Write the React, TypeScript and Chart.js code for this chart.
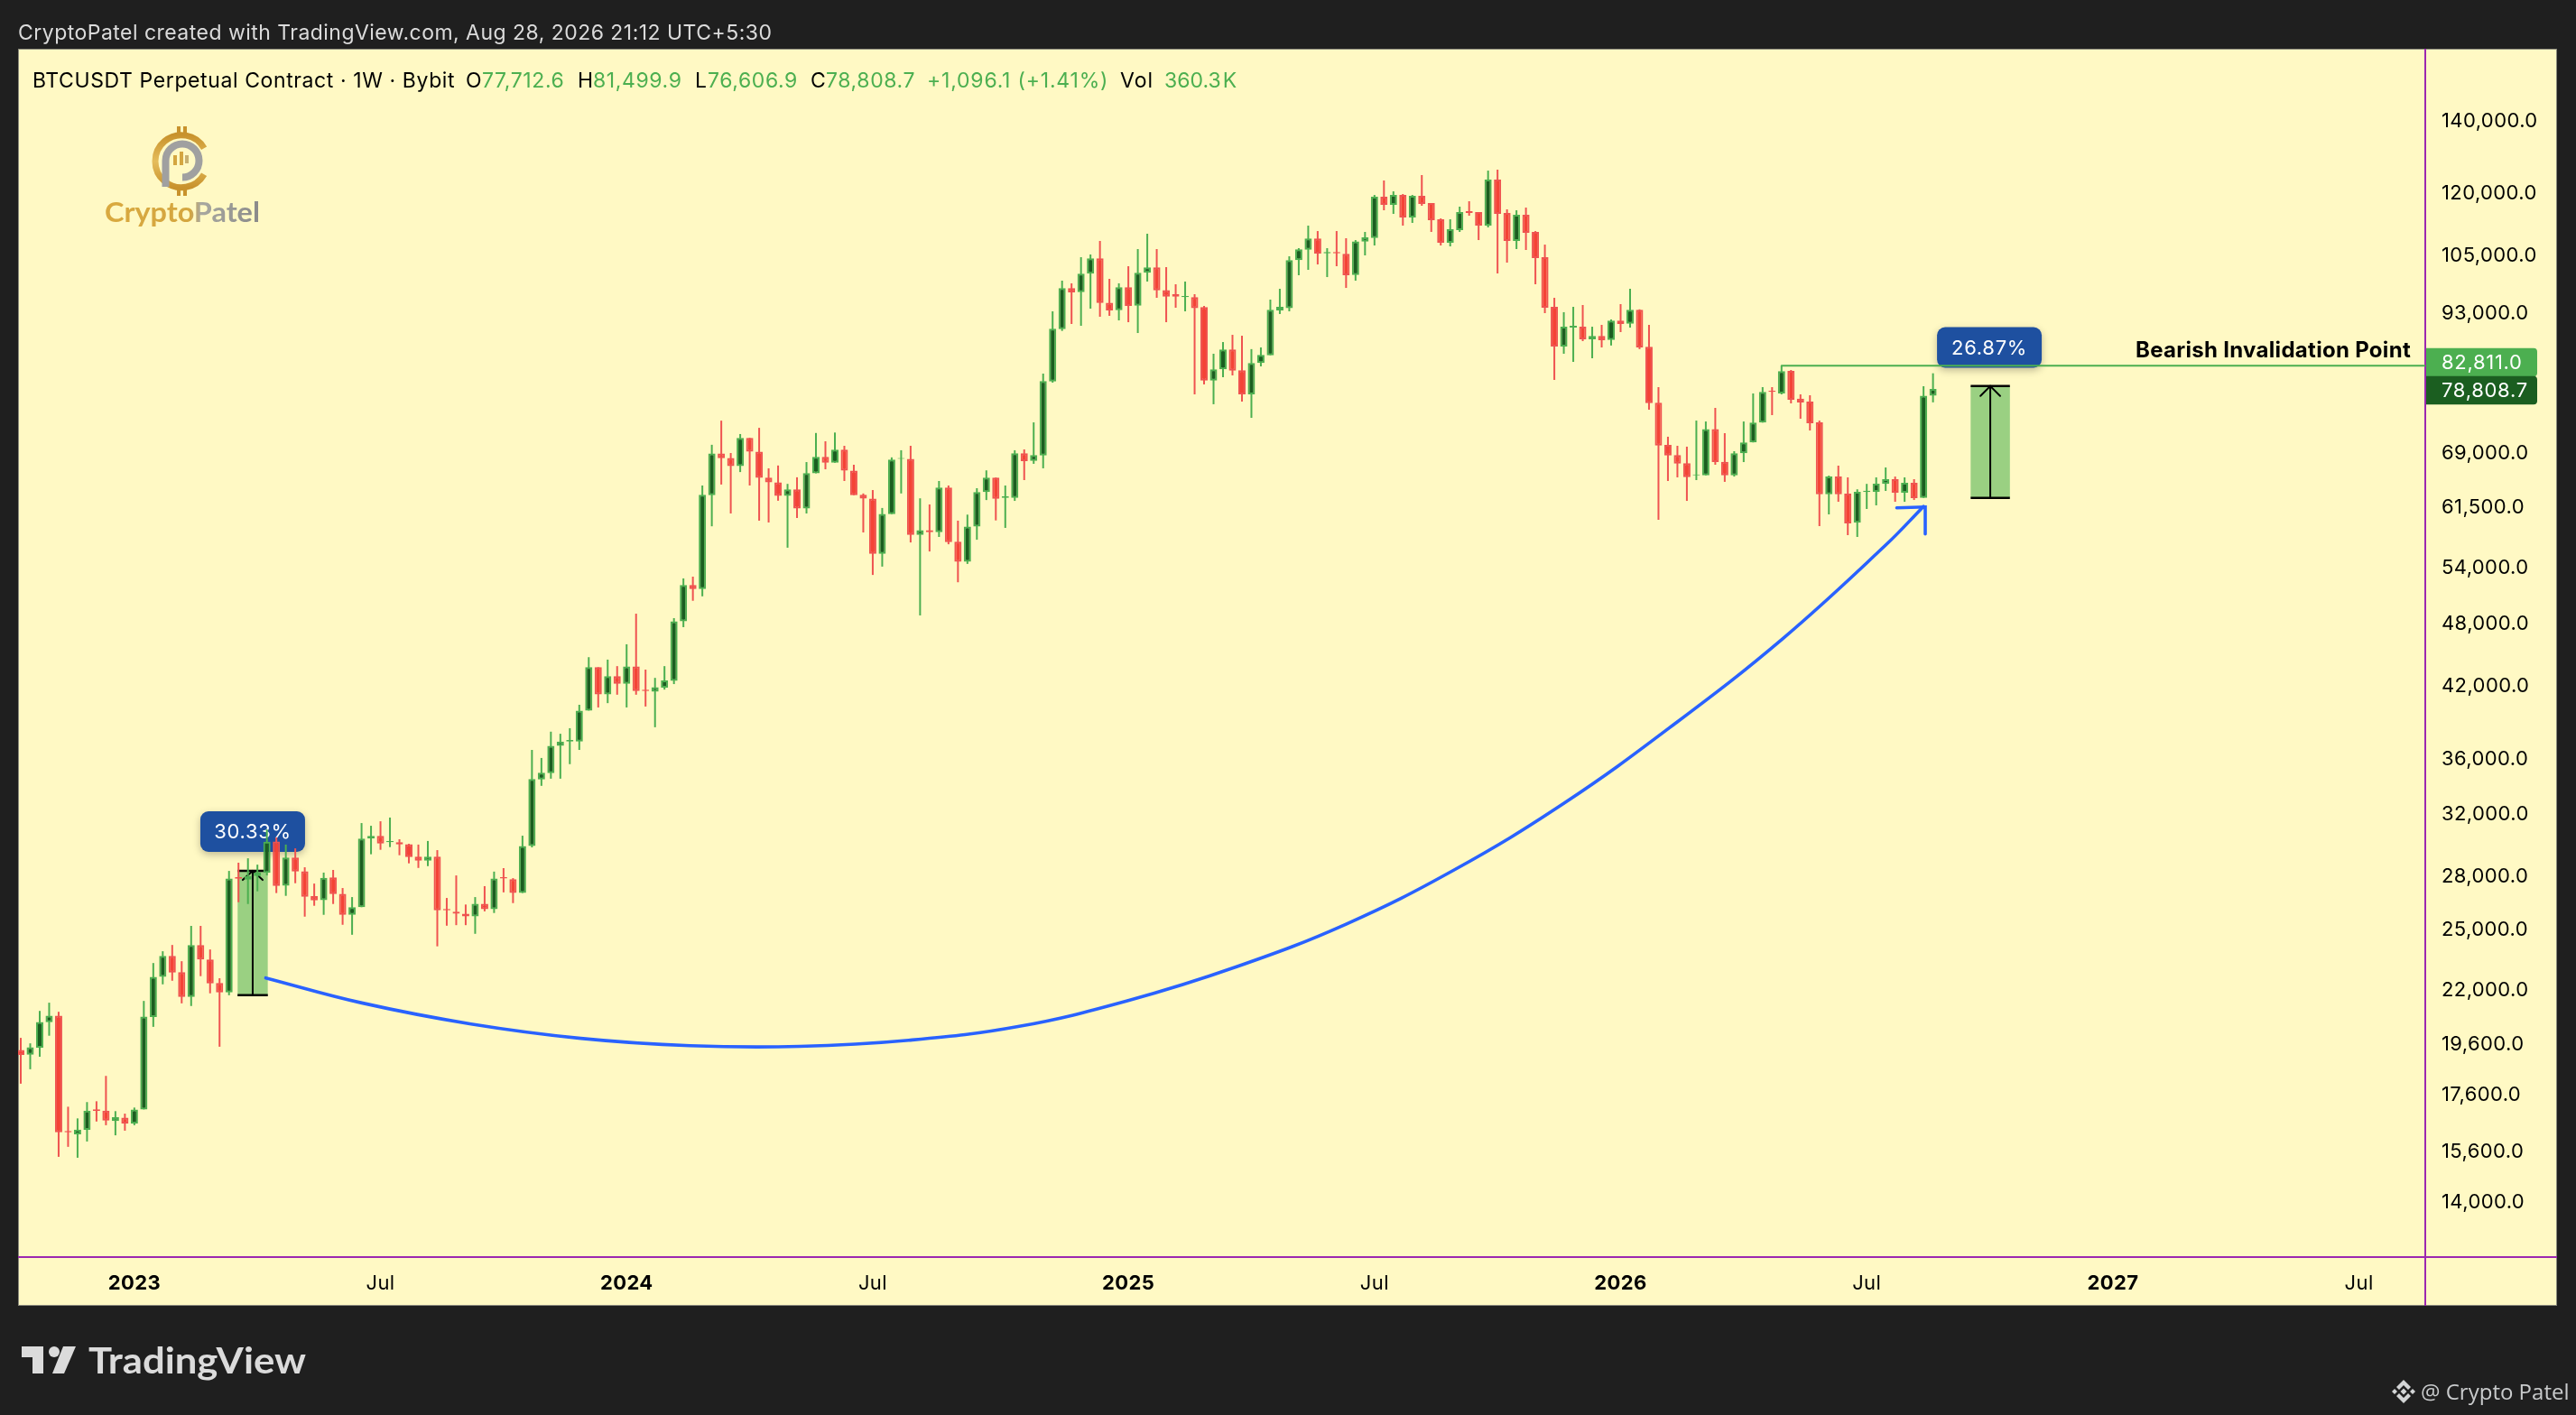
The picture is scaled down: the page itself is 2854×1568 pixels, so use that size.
import React, { useEffect, useRef } from "react";
import { Chart, registerables } from "chart.js";

Chart.register(...registerables);

const opens = [
  19300,19100,19390,20470,20760,16240,16120,16280,17010,16960,
  16590,16710,16500,17000,20700,22550,23570,22770,21600,24120,
  23390,22250,21810,27880,27730,27950,28130,30080,27380,29070,
  28230,26770,26550,27860,26910,25730,26150,30260,30440,30030,
  30030,29910,29120,28870,29120,26050,25900,25790,25640,26340,
  26040,27880,27760,26950,29790,34330,34790,36870,37210,37210,
  39740,43590,41140,42770,42080,43660,41560,41380,41740,42330,
  48070,51930,51470,62870,68720,68060,66870,71030,68970,65280,
  64600,62790,63660,61100,65860,68200,67360,69280,66230,62920,
  62400,55480,60380,67920,67920,57780,58360,58110,63890,56930,
  54550,58800,63290,65280,62500,62500,68730,67640,68420,80100,
  89530,97690,96850,100740,104080,94710,93220,97870,94110,100940,
  102100,97290,96440,95830,95830,93820,80240,82180,85730,82030,
  77920,83290,84680,93170,93600,103680,106020,108580,105220,105500,
  105090,100470,107870,108700,118680,116640,119130,113560,118900,117090,
  113120,107600,110530,115090,114870,111600,123090,114650,108020,114210,
  110110,104350,93880,86270,89820,89990,87610,88240,87490,91160,
  90580,93290,86220,76550,69970,68470,67290,65580,65580,72380,
  67500,65580,68730,70340,73370,78520,78070,81910,77230,76730,
  73410,63000,65410,63080,59280,63300,63320,64380,65050,63200,
  64540,62500,77712.6,
];
const highs = [
  19800,19570,20970,21340,20930,17100,16680,17270,17300,18260,
  16940,16850,17070,21420,23220,23810,24130,23310,25130,25130,
  23900,22480,28250,28750,29020,28630,30860,30340,29880,29640,
  28470,27500,28150,28310,27240,26720,31280,31100,31400,31650,
  30220,29930,29880,30110,29530,26670,27980,26300,26720,27350,
  28210,28420,27820,30450,36550,35930,38000,37830,38280,40240,
  44530,43590,44300,43690,45770,48850,43370,42610,43690,48390,
  52660,52860,64180,69990,73680,68770,71610,71030,72560,66570,
  66970,64400,65310,67460,71770,70510,71840,69840,67080,63100,
  63560,61180,68140,69180,69840,62450,61640,64800,64180,59550,
  60320,63810,66280,65280,64180,69180,69300,73410,81440,92990,
  99260,98700,104350,104950,108020,99650,98700,102360,106170,109690,
  106170,102170,98500,99070,96440,94060,84960,87100,88450,88280,
  85800,86110,95340,97560,104550,106370,111600,110320,106370,110320,
  108650,108220,110110,119130,122860,120050,119370,119130,124290,117090,
  113330,113120,116200,117550,114870,125470,125720,115530,115310,115970,
  110320,107180,95700,92820,93880,94250,89990,90350,91390,94430,
  97560,93380,90350,79130,71200,69840,69710,73690,73550,75710,
  71740,69040,73550,78070,79130,79130,82811,82070,77920,77770,
  73690,65540,66950,65300,63660,64400,65300,66690,65410,65300,
  65050,79280,81499.9,
];
const lows = [
  17960,18520,19020,19890,15370,15700,15340,15880,16570,16440,
  16090,16250,16440,17000,20270,22190,22360,21310,21190,22580,
  21770,19430,21680,26430,26330,27050,27980,26950,26790,27520,
  25630,26230,25730,26330,25190,24660,26150,29270,29550,29720,
  29210,28710,28430,28540,24060,25140,25170,25170,24710,25920,
  25830,26990,26380,26950,29700,33860,34380,34380,35460,36550,
  39740,40010,40380,41110,40010,41110,40090,38360,41560,42050,
  47470,50210,50690,58840,64310,60470,66040,64180,59550,59320,
  62130,56220,59890,60470,65860,66430,67360,64800,62870,58070,
  53050,54000,60380,63100,56850,48670,55770,57520,56630,52230,
  54310,57180,62220,59580,58640,62110,64920,67210,66570,79890,
  89190,90520,90170,93520,91920,92100,91210,90860,88790,99070,
  95700,90860,93700,92990,77920,79590,76300,80820,81130,76730,
  74120,82700,84680,92460,92990,100410,101580,102750,100020,102360,
  97740,99260,104750,106980,115310,114430,111600,112250,116420,110110,
  106980,106780,110110,113980,108220,111180,100800,103150,106170,105960,
  98500,92630,80350,84960,83500,87270,84150,86110,86460,88970,
  89820,85800,75420,59660,64800,65300,62110,64920,65580,67080,
  64680,65410,67460,70340,73370,74550,77920,76440,73980,72150,
  58860,60350,61990,57740,57520,61050,61520,63440,61990,61990,
  62230,62500,76606.9,
];
const closes = [
  19090,19410,20480,20760,16190,16190,16290,16960,16950,16600,
  16720,16500,17000,20720,22550,23570,22750,21600,24120,23390,
  22230,21810,27800,27780,27950,28160,30060,27360,29070,28220,
  26740,26530,27840,26890,25730,26150,30260,30440,29950,30110,
  29890,29090,28870,29120,25980,25980,25790,25640,26340,26040,
  27800,27800,26950,29790,34360,34820,36870,37200,37330,39740,
  43590,41140,42770,42080,43660,41440,41440,41770,42370,48070,
  51930,51470,62920,68720,68010,66870,71030,68970,65220,64600,
  62790,63660,61100,65900,68200,67360,69280,66230,62870,62400,
  55480,60420,67820,68060,57780,58360,58110,63890,56880,54550,
  58800,63290,65280,62380,62710,68730,67590,68470,80150,89600,
  97690,96810,100740,104080,94660,93170,97870,94060,100940,102100,
  97240,95950,95950,96070,93600,80240,82180,85730,81960,77920,
  83290,84750,93290,93880,103680,106100,108580,105150,105500,105220,
  100410,107900,108850,118680,116640,119130,113560,118900,116870,112900,
  107600,110750,114870,114650,111600,123090,114430,108020,114210,109890,
  104150,93700,86270,89990,90170,87610,88240,87440,91160,90520,
  93290,86110,76480,69880,68420,67240,65340,65710,72380,67460,
  65580,68730,70340,73370,78320,78320,81860,77030,76600,73270,
  63000,65410,63000,59200,63320,63480,64410,65050,63200,64540,
  62480,77712.6,78808.7,
];

const priceTicks = [140000,120000,105000,93000,69000,61500,54000,48000,42000,36000,32000,28000,25000,22000,19600,17600,15600,14000];
const timeTickIndexes = [12,38,64,90,117,143,169,195,221,247];
const timeTickLabels = ["2023","Jul","2024","Jul","2025","Jul","2026","Jul","2027","Jul"];

const measureIndexes = [24.5,208.05];
const measureLows = [21680,62500];
const measureHighs = [28255,79300];
const measureTexts = ["30.33%","26.87%"];

const curveIndexes = [25.88,36.03,47.57,59.15,70.7,82.26,93.8,105.35,116.9,128.5,140,151.5,163.1,174.6,186.2,197,201];
const curvePrices = [22495,21329,20395,19781,19473,19443,19699,20282,21426,23048,25225,28336,32665,38573,46382,56530,61380];

const invalidationPrice = 82811;
const invalidationStartIndex = 186;
const lastPrice = 78808.7;

const GREEN = "#4caf50";
const DARK_GREEN = "#1b5e20";
const RED = "#f44336";
const RED_WICK = "#ef5350";
const PAPER = "#fff9c4";
const DARK = "#1f1f1f";
const PURPLE = "#9c27b0";
const BLUE = "#2962ff";
const CHIP = "#1e50a0";
const FONT = "Inter, sans-serif";

const xMin = -0.286;
const xMax = 254;
const yMin = 12416;
const yMax = 162640;

const lineSet = (points: { x: number; y: number }[], color: string, width: number, order: number, extra: object = {}) => ({
  type: "line" as const,
  data: points,
  borderColor: color,
  borderWidth: width,
  pointRadius: 0,
  tension: 0,
  fill: false,
  order,
  borderCapStyle: "round" as const,
  ...extra,
});

const backdrop = {
  id: "backdrop",
  beforeDraw(chart: any) {
    const { ctx, chartArea } = chart;
    ctx.save();
    ctx.fillStyle = DARK;
    ctx.fillRect(0, 0, chart.width, chart.height);
    ctx.fillStyle = PAPER;
    ctx.fillRect(20, 54, 2813, 1393);
    ctx.strokeStyle = "#8a8a7c";
    ctx.lineWidth = 1;
    ctx.strokeRect(20.5, 54.5, 2812, 1392);
    ctx.fillStyle = PURPLE;
    ctx.fillRect(chartArea.right - 1, 54, 2, 1393);
    ctx.fillRect(20, chartArea.bottom - 1, 2813, 2);
    ctx.restore();
    ctx.letterSpacing = "0.4px";
  },
  beforeDatasetsDraw(chart: any) {
    const { ctx, scales } = chart;
    const chips = [
      { text: measureTexts[0], cx: scales.x.getPixelForValue(measureIndexes[0]), cy: 921.5, w: 116, h: 45 },
      { text: measureTexts[1], cx: scales.x.getPixelForValue(measureIndexes[1]) - 1, cy: 385, w: 116, h: 45 },
    ];
    ctx.save();
    for (const c of chips) {
      ctx.save();
      ctx.shadowColor = "rgba(0,0,0,0.25)";
      ctx.shadowBlur = 9;
      ctx.shadowOffsetY = 3;
      ctx.fillStyle = CHIP;
      ctx.beginPath();
      ctx.roundRect(c.cx - c.w / 2, c.cy - c.h / 2, c.w, c.h, 9);
      ctx.fill();
      ctx.restore();
      ctx.fillStyle = "#ffffff";
      ctx.font = `400 22px ${FONT}`;
      ctx.letterSpacing = "0.7px";
      ctx.textAlign = "center";
      ctx.textBaseline = "middle";
      ctx.fillText(c.text, c.cx, c.cy + 1);
    }
    ctx.fillStyle = "#000000";
    ctx.font = `700 24px ${FONT}`;
    ctx.letterSpacing = "0.3px";
    ctx.textAlign = "right";
    ctx.textBaseline = "middle";
    ctx.fillText("Bearish Invalidation Point", 2671, 389);
    ctx.restore();
  },
  afterDraw(chart: any) {
    const { ctx, chartArea, scales } = chart;
    const left = chartArea.right + 1;
    const tags = [
      { value: invalidationPrice, text: "82,811.0", fill: GREEN, cy: scales.y.getPixelForValue(invalidationPrice) - 3.8 },
      { value: lastPrice, text: "78,808.7", fill: DARK_GREEN, cy: scales.y.getPixelForValue(lastPrice) + 1.5 },
    ];
    ctx.save();
    for (const t of tags) {
      ctx.fillStyle = t.fill;
      ctx.beginPath();
      ctx.roundRect(left, t.cy - 15.75, 123, 31.5, [0, 4, 4, 0]);
      ctx.fill();
      ctx.fillStyle = "#ffffff";
      ctx.font = `400 22px ${FONT}`;
      ctx.letterSpacing = "0.7px";
      ctx.textAlign = "left";
      ctx.textBaseline = "middle";
      ctx.fillText(t.text, 2705, t.cy + 1);
    }
    ctx.restore();
  },
};

function CandleChart() {
  const ref = useRef<HTMLCanvasElement | null>(null);
  useEffect(() => {
    if (!ref.current) return;
    const isUp = opens.map((o, i) => closes[i] >= o);
    const wicks = highs.map((h, i) => ({ x: i, y: [lows[i], h] }));
    const bodies = opens.map((o, i) => ({ x: i, y: [o, closes[i]] }));
    const datasets: any[] = [
      {
        type: "bar",
        label: "Body",
        data: bodies,
        stack: "s",
        barThickness: 8,
        backgroundColor: isUp.map((u) => (u ? DARK_GREEN : RED)),
        borderColor: isUp.map((u) => (u ? GREEN : RED_WICK)),
        borderWidth: 2,
        borderSkipped: false,
        inflateAmount: 0,
        order: 1,
      },
      {
        type: "bar",
        label: "Wick",
        data: wicks,
        stack: "s",
        barThickness: 2,
        backgroundColor: isUp.map((u) => (u ? GREEN : RED_WICK)),
        inflateAmount: 0,
        order: 2,
      },
      lineSet(curveIndexes.map((x, i) => ({ x, y: curvePrices[i] })), BLUE, 3.6, 3, { tension: 0.4 }),
      lineSet([{ x: 198.17, y: 61200 }, { x: 201.18, y: 61316 }, { x: 201.18, y: 57885 }], BLUE, 3.6, 3),
      lineSet([{ x: invalidationStartIndex, y: invalidationPrice }, { x: xMax, y: invalidationPrice }], GREEN, 2, 4),
    ];
    const halves = [1.6, 2.07];
    const barbX = [1.05, 1.04];
    const barbY = [27713, 77670];
    measureIndexes.forEach((c, m) => {
      const lo = measureLows[m];
      const hi = measureHighs[m];
      const color = "#000000";
      datasets.push(lineSet([{ x: c, y: lo }, { x: c, y: hi }], color, 2, 5));
      datasets.push(lineSet([{ x: c - halves[m], y: lo }, { x: c + halves[m], y: lo }], color, 2.5, 5, { borderCapStyle: "butt" }));
      datasets.push(lineSet([{ x: c - halves[m], y: hi }, { x: c + halves[m], y: hi }], color, 2.5, 5, { borderCapStyle: "butt" }));
      datasets.push(lineSet([{ x: c - barbX[m], y: barbY[m] }, { x: c, y: hi }, { x: c + barbX[m], y: barbY[m] }], color, 2, 5));
      datasets.push({
        type: "bar",
        label: "Measure",
        data: [{ x: c, y: [lo, hi] }],
        stack: "s",
        barThickness: m === 0 ? 33.4 : 43.5,
        backgroundColor: "#9ad082",
        inflateAmount: 0,
        order: 6,
      });
    });

    const chart = new Chart(ref.current, {
      type: "bar",
      data: { datasets },
      plugins: [backdrop],
      options: {
        responsive: false,
        animation: false,
        devicePixelRatio: 1,
        events: [],
        layout: { padding: { left: 20, top: 54, right: 21, bottom: 121 } },
        plugins: { legend: { display: false }, tooltip: { enabled: false }, title: { display: false } },
        scales: {
          x: {
            type: "linear",
            min: xMin,
            max: xMax,
            offset: false,
            position: "bottom",
            grid: { display: false, drawTicks: false, offset: false },
            border: { display: false },
            afterFit: (s: any) => { s.height = 54; },
            afterBuildTicks: (s: any) => {
              s.ticks = timeTickIndexes.map((value, i) => ({ value, major: /^\d/.test(timeTickLabels[i]) }));
            },
            ticks: {
              autoSkip: false,
              maxRotation: 0,
              padding: 16,
              color: "#000000",
              font: (c: any) => ({ family: FONT, size: 22, weight: c.tick && c.tick.major ? 700 : 400 }),
              callback: (_v: any, i: number) => timeTickLabels[i],
            },
          },
          y: {
            type: "logarithmic",
            position: "right",
            stacked: false,
            min: yMin,
            max: yMax,
            grid: { display: false, drawTicks: false },
            border: { display: false },
            afterFit: (s: any) => { s.width = 146; },
            afterBuildTicks: (s: any) => {
              s.ticks = priceTicks.map((value) => ({ value }));
            },
            ticks: {
              autoSkip: false,
              padding: 18,
              labelOffset: 2,
              color: "#000000",
              font: { family: FONT, size: 22 },
              callback: (v: any) => Number(v).toLocaleString("en-US", { minimumFractionDigits: 1, maximumFractionDigits: 1 }),
            },
          },
        },
      } as any,
    } as any);
    return () => chart.destroy();
  }, []);
  return <canvas ref={ref} width={2854} height={1568} style={{ position: "absolute", left: 0, top: 0, width: 2854, height: 1568 }} />;
}

function Txt(p: { x: number; y: number; c: string; w?: number; f?: string; s?: number; ls?: number; children: React.ReactNode }) {
  return (
    <div
      style={{
        position: "absolute",
        left: p.x,
        top: p.y,
        transform: "translateY(-50%)",
        color: p.c,
        fontFamily: p.f || FONT,
        fontSize: p.s || 23,
        fontWeight: p.w || 400,
        letterSpacing: p.ls === undefined ? 0.6 : p.ls,
        whiteSpace: "nowrap",
        lineHeight: 1.2,
      }}
    >
      {p.children}
    </div>
  );
}

function Logos() {
  return (
    <svg width={2854} height={1568} style={{ position: "absolute", left: 0, top: 0, pointerEvents: "none" }}>
      <defs>
        <linearGradient id="goldGrey" x1="116" x2="288" y1="0" y2="0" gradientUnits="userSpaceOnUse">
          <stop offset="0" stopColor="#d9a93f" />
          <stop offset="0.55" stopColor="#d4a640" />
          <stop offset="0.62" stopColor="#a8a8a0" />
          <stop offset="1" stopColor="#8a8a8a" />
        </linearGradient>
        <linearGradient id="ring" x1="0" x2="0" y1="0" y2="1">
          <stop offset="0" stopColor="#c8922c" />
          <stop offset="0.5" stopColor="#e5bd5c" />
          <stop offset="1" stopColor="#c8922c" />
        </linearGradient>
      </defs>
      <path d="M226.1 164.2 A29 29 0 1 0 226.1 193.2" fill="none" stroke="url(#ring)" strokeWidth={7} />
      <rect x={196} y={140} width={4} height={7} fill="#c8922c" />
      <rect x={203} y={140} width={4} height={7} fill="#c8922c" />
      <rect x={196} y={210} width={4} height={7} fill="#c8922c" />
      <rect x={203} y={210} width={4} height={7} fill="#c8922c" />
      <path d="M183.5 207 L183.5 178 A18.5 18.5 0 1 1 202 196.5" fill="none" stroke="#a0a0a0" strokeWidth={8} />
      <rect x={192} y={172} width={4} height={11} fill="#d4a640" />
      <rect x={199} y={168} width={4} height={15} fill="#d4a640" />
      <rect x={205} y={172} width={4} height={9} fill="#c8b070" />
      <text x={116} y={246} textLength={172} lengthAdjust="spacingAndGlyphs" fontFamily="Lato, sans-serif" fontWeight={700} fontSize={30} fill="url(#goldGrey)">CryptoPatel</text>

      <path d="M24 1492 H48 V1522 H36 V1504 H24 Z" fill="#dbdbdb" />
      <circle cx={60} cy={1498} r={6} fill="#dbdbdb" />
      <path d="M70 1492 H84 L71 1522 H58 Z" fill="#dbdbdb" />
      <text x={98} y={1521.5} textLength={241} lengthAdjust="spacingAndGlyphs" fontFamily="Lato, sans-serif" fontWeight={700} fontSize={41} fill="#dbdbdb">TradingView</text>

      <g fill="#d3d5d6">
        <path d="M2663 1529 L2671 1537 L2668 1540 L2663 1535 L2658 1540 L2655 1537 Z" />
        <path d="M2663 1555 L2671 1547 L2668 1544 L2663 1549 L2658 1544 L2655 1547 Z" />
        <path d="M2663 1538.5 L2666.5 1542 L2663 1545.5 L2659.5 1542 Z" />
        <path d="M2653 1539 L2656 1542 L2653 1545 L2650 1542 Z" />
        <path d="M2673 1539 L2676 1542 L2673 1545 L2670 1542 Z" />
      </g>
    </svg>
  );
}

export default function App() {
  const rowY = 90;
  return (
    <div style={{ position: "fixed", left: 0, top: 0, width: 2854, height: 1568, background: DARK, overflow: "hidden" }}>
      <CandleChart />
      <Logos />
      <Txt x={20} y={36.5} c="#dbdbdb" ls={0.47}>CryptoPatel created with TradingView.com, Aug 28, 2026 21:12 UTC+5:30</Txt>
      <Txt x={36} y={rowY} c="#000">BTCUSDT Perpetual Contract · 1W · Bybit</Txt>
      <Txt x={516} y={rowY} c="#000">O</Txt>
      <Txt x={534} y={rowY} c={GREEN}>77,712.6</Txt>
      <Txt x={640} y={rowY} c="#000">H</Txt>
      <Txt x={657} y={rowY} c={GREEN}>81,499.9</Txt>
      <Txt x={770} y={rowY} c="#000">L</Txt>
      <Txt x={784} y={rowY} c={GREEN}>76,606.9</Txt>
      <Txt x={898} y={rowY} c="#000">C</Txt>
      <Txt x={915} y={rowY} c={GREEN}>78,808.7</Txt>
      <Txt x={1027} y={rowY} c={GREEN} ls={0.8}>+1,096.1 (+1.41%)</Txt>
      <Txt x={1241} y={rowY} c="#000" ls={1}>Vol</Txt>
      <Txt x={1290} y={rowY} c={GREEN} ls={0}>360.3{"\u200A"}K</Txt>
      <Txt x={2682} y={1542} c="#c9cbcc" f="'Open Sans', sans-serif" s={24} ls={0}>@ Crypto Patel</Txt>
    </div>
  );
}
